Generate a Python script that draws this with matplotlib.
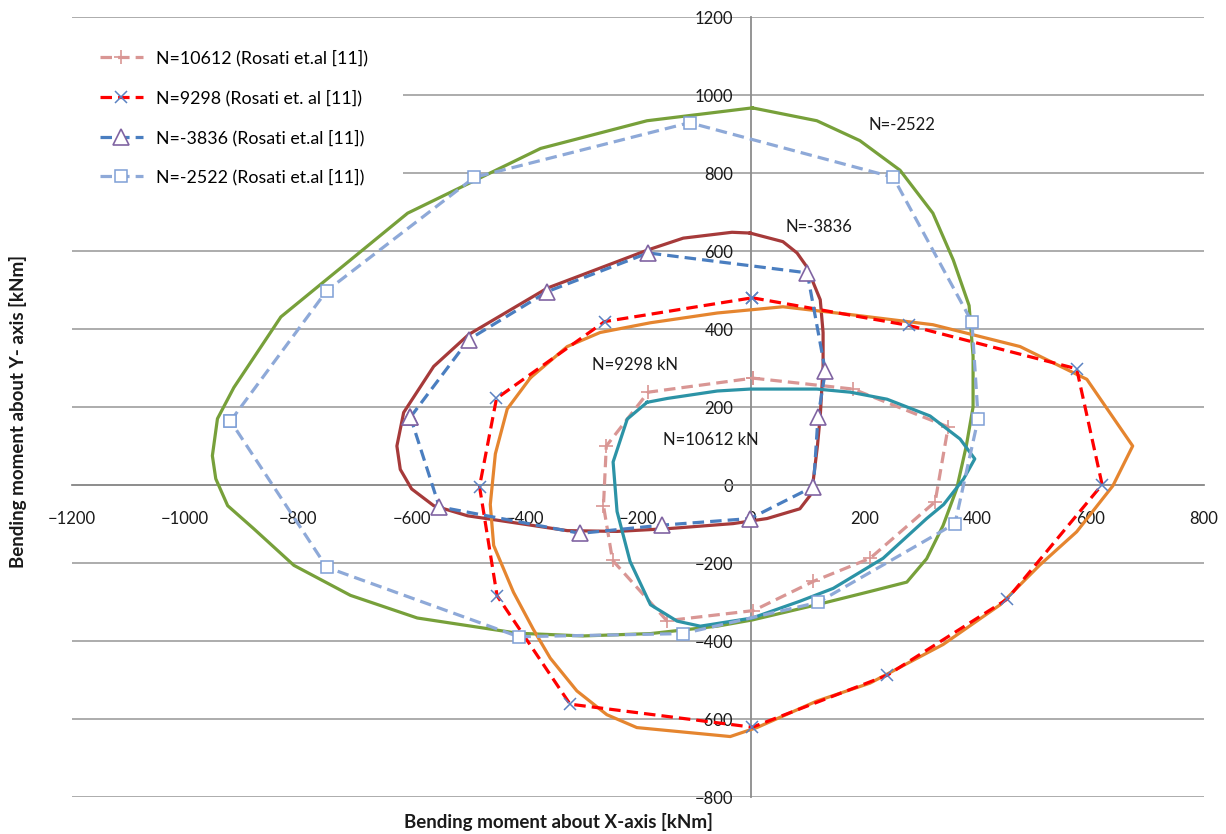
import matplotlib
matplotlib.use("Agg")
import matplotlib.pyplot as plt
from matplotlib.patches import Rectangle

plt.rcParams["font.family"] = ["Lato", "DejaVu Sans"]

# Rosati et al. [11] reference interaction curves (Mx, My in kNm)
rosati_10612_x = [3, 180, 348, 325, 210, 110, 4, -149, -245, -261, -256, -182, 3]
rosati_10612_y = [274, 246, 149, -43, -188, -247, -322, -348, -193, -53, 100, 238, 274]

rosati_9298_x = [2, 279, 575, 620, 452, 240, 2, -320, -449, -480, -450, -259, 2]
rosati_9298_y = [480, 409, 298, 1, -293, -488, -621, -562, -284, -4, 222, 419, 480]

rosati_m3836_x = [-602, -499, -360, -182, 99, 131, 118, 110, -2, -158, -302, -551, -602]
rosati_m3836_y = [174, 373, 496, 595, 544, 292, 174, -4, -86, -103, -124, -56, 174]

rosati_m2522_x = [-920, -750, -489, -109, 251, 390, 401, 360, 118, -120, -411, -750, -920]
rosati_m2522_y = [164, 498, 789, 929, 789, 418, 170, -99, -301, -381, -389, -211, 164]

# Computed interaction curves
curve_m2522_x = [2, 116, 192, 263, 321, 357, 385, 392, 392, 380, 363, 339, 310, 275, 210,
                 116, 2, -60, -178, -297, -413, -531, -590, -708, -808, -879, -925, -946,
                 -952, -943, -914, -831, -607, -372, -184, 2]
curve_m2522_y = [967, 934, 883, 807, 697, 577, 460, 330, 200, 100, -10, -104, -189, -249, -273,
                 -307, -346, -362, -381, -387, -380, -354, -341, -283, -206, -112, -53, 16,
                 75, 170, 250, 431, 697, 863, 934, 967]

curve_m3836_x = [-2, 56, 81, 98, 122, 127, 127, 122, 117, 110, 104, 86, 28, -32, -148, -237,
                 -325, -431, -501, -561, -600, -620, -626, -614, -561, -499, -360, -182, -120,
                 -34, -2]
curve_m3836_y = [646, 624, 595, 560, 475, 391, 304, 177, 100, 16, -27, -61, -86, -99, -112,
                 -119, -117, -94, -79, -53, -10, 40, 100, 186, 304, 386, 505, 603, 633, 648, 646]

curve_9298_x = [-390, -431, -452, -461, -455, -420, -385, -355, -308, -255, -202, -37, 10, 116,
                210, 339, 440, 510, 575, 639, 674, 593, 475, 321, 175, 56, -60, -178, -267,
                -325, -390]
curve_9298_y = [275, 195, 80, -50, -155, -275, -370, -444, -528, -589, -622, -645, -622, -554,
                -508, -409, -307, -205, -120, -2, 100, 271, 355, 411, 437, 457, 441, 416, 391,
                355, 275]

curve_10612_x = [-184, -148, -60, -2, 116, 175, 240, 316, 369, 395, 375, 340, 310, 233, 145, 86,
                 2, -90, -131, -178, -214, -237, -244, -219, -184]
curve_10612_y = [212, 222, 241, 246, 246, 238, 220, 177, 118, 67, 15, -50, -86, -188, -265, -298,
                 -341, -362, -349, -307, -196, -68, 59, 169, 212]

x_ticks = [-1200, -1000, -800, -600, -400, -200, 0, 200, 400, 600, 800]
y_ticks = [-800, -600, -400, -200, 0, 200, 400, 600, 800, 1000, 1200]

W, H = 1226, 834
fig = plt.figure(figsize=(W / 100, H / 100), dpi=100)
ax = fig.add_axes([72 / W, 37 / H, 1132 / W, 780 / H])
ax.set_xlim(x_ticks[0], x_ticks[-1])
ax.set_ylim(y_ticks[0], y_ticks[-1])
ax.set_xticks(x_ticks)
ax.set_yticks(y_ticks)

for side in ("top", "right"):
    ax.spines[side].set_visible(False)
ax.spines["left"].set_position(("data", 0))
ax.spines["bottom"].set_position(("data", 0))
for side in ("left", "bottom"):
    ax.spines[side].set_color("#8c8c8c")
    ax.spines[side].set_linewidth(1.3)
ax.yaxis.grid(True, color="#a6a6a6", linewidth=1.3)
ax.set_axisbelow(True)
ax.tick_params(axis="both", length=0, labelsize=12, colors="#1a1a1a")
ax.tick_params(axis="x", pad=19)
ax.tick_params(axis="y", pad=13)

lw = 2.3
# Computed curves (solid)
ax.plot(curve_m2522_x, curve_m2522_y, color="#77A03A", lw=lw, zorder=3)
ax.plot(curve_m3836_x, curve_m3836_y, color="#A63A3A", lw=lw, zorder=3)
ax.plot(curve_9298_x, curve_9298_y, color="#E5852F", lw=lw, zorder=3)
ax.plot(curve_10612_x, curve_10612_y, color="#2C93A6", lw=lw, zorder=4)

# Reference curves (dashed with markers)
dash = (3.6, 1.9)
h1, = ax.plot(rosati_10612_x, rosati_10612_y, color="#D99694", lw=lw, dashes=dash,
              marker="+", ms=10, mew=1.2, mec="#D99694", zorder=3.5,
              label="N=10612 (Rosati et.al [11])")
h2, = ax.plot(rosati_9298_x, rosati_9298_y, color="#FF0000", lw=lw, dashes=dash,
              marker="x", ms=9, mew=1.1, mec="#5B82C2", zorder=5,
              label="N=9298 (Rosati et. al [11])")
h3, = ax.plot(rosati_m3836_x, rosati_m3836_y, color="#4A7EC0", lw=lw, dashes=dash,
              marker="^", ms=11, mew=1.2, mec="#8064A2", mfc="white", zorder=5,
              label="N=-3836 (Rosati et.al [11])")
h4, = ax.plot(rosati_m2522_x, rosati_m2522_y, color="#8EA9D8", lw=lw, dashes=dash,
              marker="s", ms=9, mew=1.1, mec="#7F9FD6", mfc="white", zorder=5,
              label="N=-2522 (Rosati et.al [11])")

# Curve labels
lab_kw = dict(fontsize=12, va="center", ha="left", color="#1a1a1a")
ax.text(207, 922, "N=-2522", **lab_kw)
ax.text(60, 661, "N=-3836", **lab_kw)
ax.text(-281, 307, "N=9298 kN", **lab_kw)
ax.text(-155, 115, "N=10612 kN", **lab_kw)

# Legend on a white panel that masks the gridlines behind it
ax.add_patch(Rectangle((71 / W, 1 - 208 / H), (403 - 71) / W, (208 - 28) / H,
                       transform=fig.transFigure, facecolor="white", edgecolor="none",
                       zorder=1, clip_on=False))
leg = ax.legend(handles=[h1, h2, h3, h4], loc="upper left",
                bbox_to_anchor=(100 / W, 1 - 50 / H), bbox_transform=fig.transFigure,
                fontsize=12.8, frameon=False, borderpad=0, borderaxespad=0,
                handlelength=2.4, handletextpad=0.75, labelspacing=1.3)
leg.set_zorder(10)

fig.text(18 / W, 1 - 411 / H, "Bending moment about Y- axis [kNm]", rotation=90,
         ha="center", va="center", fontsize=13.5, fontweight="bold", color="#1a1a1a")
fig.text(558 / W, 1 - 822 / H, "Bending moment about X-axis [kNm]",
         ha="center", va="center", fontsize=13.5, fontweight="bold", color="#1a1a1a")

fig.savefig("out.png", dpi=100, facecolor="white")
